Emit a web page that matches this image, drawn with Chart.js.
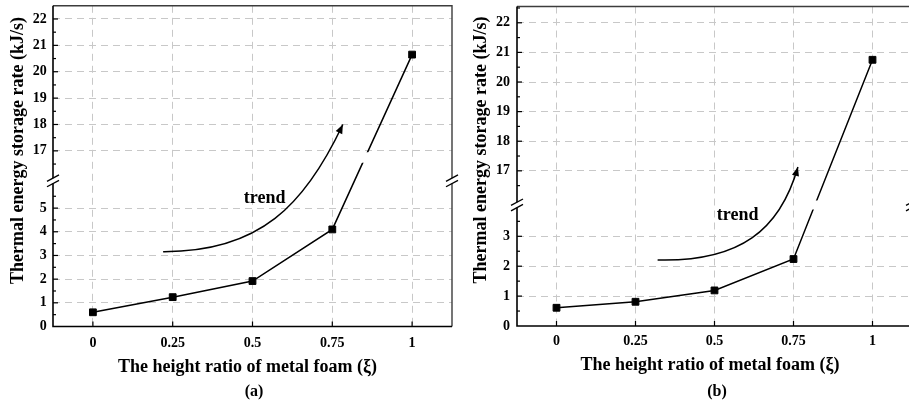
<!DOCTYPE html>
<html><head><meta charset="utf-8">
<script src="https://cdn.jsdelivr.net/npm/chart.js@4.4.1/dist/chart.umd.min.js"></script>
<style>
html,body{margin:0;padding:0;width:909px;height:408px;overflow:hidden;background:#fff;}
#wrap{position:relative;width:909px;height:408px;overflow:hidden;}
canvas{position:absolute;top:0;}
#ca{left:0;} #cb{left:460px;}
</style></head><body>
<div id="wrap"><canvas id="ca" width="460" height="408"></canvas><canvas id="cb" width="470" height="408"></canvas></div>
<script>
// ---- data ----
const heightRatio = [0, 0.25, 0.5, 0.75, 1];
const xTickLabels = ['0', '0.25', '0.5', '0.75', '1'];
const rateA = [0.60, 1.24, 1.92, 4.10, 20.65];
const rateB = [0.61, 0.81, 1.19, 2.24, 20.75];
const yMajorA = [0, 1, 2, 3, 4, 5, 17, 18, 19, 20, 21, 22];
const yMinorA = [0.5, 1.5, 2.5, 3.5, 4.5, 5.5, 16.5, 17.5, 18.5, 19.5, 20.5, 21.5];
const yMajorB = [0, 1, 2, 3, 17, 18, 19, 20, 21, 22];
const yMinorB = [0.5, 1.5, 2.5, 3.5, 16.5, 17.5, 18.5, 19.5, 20.5, 21.5, 22.5];
const xTitle = 'The height ratio of metal foam (ξ)';
const yTitle = 'Thermal energy storage rate (kJ/s)';
const trendText = 'trend';
const panelLabels = ['(a)', '(b)'];

// ---- layout / style per panel ----
const SERIF = '"Liberation Serif", "Times New Roman", serif';
const PANELS = {
  ca: { label: panelLabels[0], padTop: 5.5, padRight: 8, xAxisH: 81.5, yAxisW: 53, xTickPad: 8.5, yTickPad: 6.3,
        lowMax: 6, highMin: 16, yMax: 22.5, lowFrac: 0.443, highFrac: 0.5346, lineGap: [16.55, 16.95],
        yTitleX: 18.5, yTitleY: 150.5, xTitleX: 247.5, xTitleY: 367, capX: 254, capY: 392,
        trend: [[0.22, 3.16], [0.523, 3.14], [0.664, 5.13], [0.783, 18.0]], trendLabel: [0.538, 5.22] },
  cb: { label: panelLabels[1], padTop: 6.5, padRight: 18, xAxisH: 82, yAxisW: 57, xTickPad: 7, yTickPad: 7,
        lowMax: 3.9, highMin: 16, yMax: 22.55, lowFrac: 0.365, highFrac: 0.607, lineGap: [3.9, 16],
        yTitleX: 21.7, yTitleY: 150, xTitleX: 250, xTitleY: 365.5, capX: 257, capY: 391.5,
        trend: [[0.32, 2.21], [0.581, 2.14], [0.707, 3.21], [0.764, 17.13]], trendLabel: [0.573, 3.55] }
};

// ---- broken linear scale ----
class BrokenLinearScale extends Chart.LinearScale {
  getPixelForValue(v) {
    const b = PANELS[this.chart.canvas.id];
    const H = this.bottom - this.top;
    const lowH = H * b.lowFrac, highH = H * b.highFrac;
    if (v <= b.lowMax) return this.bottom - (v - this.min) / (b.lowMax - this.min) * lowH;
    if (v >= b.highMin) return this.top + (this.max - v) / (this.max - b.highMin) * highH;
    const p1 = this.bottom - lowH, p2 = this.top + highH;
    return p1 + (v - b.lowMax) / (b.highMin - b.lowMax) * (p2 - p1);
  }
  getValueForPixel(p) {
    const b = PANELS[this.chart.canvas.id];
    const H = this.bottom - this.top;
    const lowH = H * b.lowFrac, highH = H * b.highFrac;
    const p1 = this.bottom - lowH, p2 = this.top + highH;
    if (p >= p1) return this.min + (this.bottom - p) / lowH * (b.lowMax - this.min);
    if (p <= p2) return this.max - (p - this.top) / highH * (this.max - b.highMin);
    return b.lowMax + (p1 - p) / (p1 - p2) * (b.highMin - b.lowMax);
  }
}
BrokenLinearScale.id = 'brokenLinear';
BrokenLinearScale.defaults = {};
Chart.register(BrokenLinearScale);

function line(ctx, x1, y1, x2, y2) { ctx.beginPath(); ctx.moveTo(x1, y1); ctx.lineTo(x2, y2); ctx.stroke(); }

const brokenPlugin = {
  id: 'brokenAxis',
  beforeDatasetsDraw(chart) {
    const P = PANELS[chart.canvas.id], ys = chart.scales.y, ctx = chart.ctx;
    const p1 = ys.getPixelForValue(P.lineGap[0]), p2 = ys.getPixelForValue(P.lineGap[1]);
    const top = Math.min(p1, p2), bot = Math.max(p1, p2);
    ctx.save();
    ctx.beginPath();
    ctx.rect(0, 0, chart.width, top);
    ctx.rect(0, bot, chart.width, chart.height - bot);
    ctx.clip();
  },
  afterDatasetsDraw(chart) { chart.ctx.restore(); },
  afterDraw(chart) {
    const ctx = chart.ctx, a = chart.chartArea, xs = chart.scales.x, ys = chart.scales.y;
    const P = PANELS[chart.canvas.id];
    const yMajor = chart.canvas.id === 'ca' ? yMajorA : yMajorB;
    ctx.save();
    // frame
    ctx.strokeStyle = '#3c3c3c'; ctx.lineWidth = 1.4;
    ctx.beginPath(); ctx.moveTo(a.left, a.top); ctx.lineTo(a.right, a.top); ctx.lineTo(a.right, a.bottom); ctx.stroke();
    ctx.strokeStyle = '#000'; ctx.lineWidth = 1.6;
    ctx.beginPath(); ctx.moveTo(a.left, a.top); ctx.lineTo(a.left, a.bottom); ctx.lineTo(a.right, a.bottom); ctx.stroke();
    // inner ticks
    ctx.lineWidth = 1.2;
    ys.ticks.forEach(t => {
      if (t.value === 0) return;
      const py = ys.getPixelForValue(t.value);
      const L = yMajor.includes(t.value) ? 5 : 3;
      line(ctx, a.left, py, a.left + L, py);
    });
    xs.ticks.forEach(t => {
      const px = xs.getPixelForValue(t.value);
      line(ctx, px, a.bottom, px, a.bottom - 5);
    });
    // break marks
    const by = (ys.getPixelForValue(P.lowMax) + ys.getPixelForValue(P.highMin)) / 2;
    [a.left, a.right].forEach(bx => {
      ctx.fillStyle = '#fff';
      ctx.fillRect(bx - 2.5, by - 2.6, 5, 5.2);
      ctx.strokeStyle = '#000'; ctx.lineWidth = 1.3;
      [-2.7, 2.7].forEach(d => line(ctx, bx - 6, by + d + 3.2, bx + 6, by + d - 3.2));
    });
    // trend arrow
    const T = P.trend.map(p => [xs.getPixelForValue(p[0]), ys.getPixelForValue(p[1])]);
    ctx.strokeStyle = '#000'; ctx.lineWidth = 1.5;
    ctx.beginPath(); ctx.moveTo(T[0][0], T[0][1]);
    ctx.bezierCurveTo(T[1][0], T[1][1], T[2][0], T[2][1], T[3][0], T[3][1]);
    ctx.stroke();
    const ang = Math.atan2(T[3][1] - T[2][1], T[3][0] - T[2][0]);
    const L = 9, W = 3.6;
    ctx.fillStyle = '#000';
    ctx.beginPath();
    ctx.moveTo(T[3][0], T[3][1]);
    ctx.lineTo(T[3][0] - L * Math.cos(ang) + W * Math.sin(ang), T[3][1] - L * Math.sin(ang) - W * Math.cos(ang));
    ctx.lineTo(T[3][0] - L * Math.cos(ang) - W * Math.sin(ang), T[3][1] - L * Math.sin(ang) + W * Math.cos(ang));
    ctx.closePath(); ctx.fill();
    ctx.font = 'bold 18px ' + SERIF;
    ctx.textAlign = 'center'; ctx.textBaseline = 'alphabetic';
    ctx.fillText(trendText, xs.getPixelForValue(P.trendLabel[0]), ys.getPixelForValue(P.trendLabel[1]));
    // titles
    ctx.textBaseline = 'middle';
    ctx.font = 'bold 18px ' + SERIF;
    ctx.fillText(xTitle, P.xTitleX, P.xTitleY);
    ctx.font = 'bold 16px ' + SERIF;
    ctx.fillText(P.label, P.capX, P.capY);
    ctx.save();
    ctx.translate(P.yTitleX, P.yTitleY); ctx.rotate(-Math.PI / 2);
    ctx.font = 'bold 18px ' + SERIF;
    ctx.fillText(yTitle, 0, 0);
    ctx.restore();
    ctx.restore();
  }
};

function makeChart(id, rates, yMajor, yMinor) {
  const P = PANELS[id];
  const tickFont = { family: SERIF, size: 14, weight: 'bold' };
  return new Chart(document.getElementById(id), {
    type: 'line',
    data: { datasets: [{
      data: heightRatio.map((x, i) => ({ x: x, y: rates[i] })),
      borderColor: '#000', borderWidth: 1.5, tension: 0, fill: false,
      pointStyle: 'rect', pointRadius: 4.8, pointBackgroundColor: '#000', pointBorderColor: '#000', pointBorderWidth: 1
    }] },
    options: {
      responsive: false, animation: false, devicePixelRatio: 1,
      layout: { padding: { left: 0, right: P.padRight, top: P.padTop, bottom: 0 } },
      plugins: { legend: { display: false }, tooltip: { enabled: false }, title: { display: false } },
      scales: {
        x: {
          type: 'linear', min: -0.125, max: 1.125,
          afterFit: s => { s.height = P.xAxisH; s.paddingLeft = 0; s.paddingRight = 0; },
          afterBuildTicks: s => { s.ticks = heightRatio.map(v => ({ value: v })); },
          ticks: { autoSkip: false, maxRotation: 0, padding: P.xTickPad, color: '#000', font: tickFont,
                   callback: (v, i) => xTickLabels[i] },
          grid: { color: '#c8c8c8', lineWidth: 1, drawTicks: false, borderDash: [7, 5] },
          border: { display: false, dash: [7, 5] }
        },
        y: {
          type: 'brokenLinear', min: 0, max: P.yMax,
          afterFit: s => { s.width = P.yAxisW; s.paddingTop = 0; s.paddingBottom = 0; },
          afterBuildTicks: s => { s.ticks = yMajor.concat(yMinor).sort((p, q) => p - q).map(v => ({ value: v })); },
          ticks: { autoSkip: false, padding: P.yTickPad, color: '#000', font: tickFont,
                   callback: v => yMajor.includes(v) ? String(v) : '' },
          grid: { color: c => (c.tick && c.tick.value !== 0 && yMajor.includes(c.tick.value)) ? '#c8c8c8' : 'rgba(0,0,0,0)',
                  lineWidth: 1, drawTicks: false, borderDash: [7, 5] },
          border: { display: false, dash: [7, 5] }
        }
      }
    },
    plugins: [brokenPlugin]
  });
}

makeChart('ca', rateA, yMajorA, yMinorA);
makeChart('cb', rateB, yMajorB, yMinorB);
</script>
</body></html>
